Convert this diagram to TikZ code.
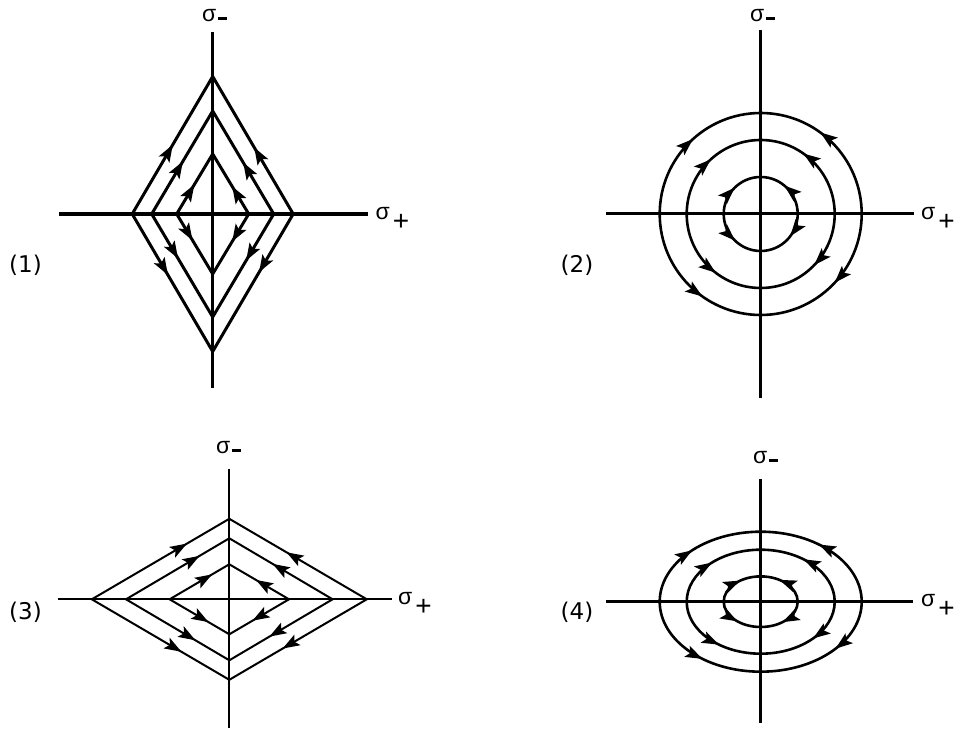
\documentclass[tikz,border=0pt]{standalone}
\usepackage{fontspec}
\setmainfont{DejaVu Sans}
\newfontfamily\sigfont{Liberation Sans}
\usetikzlibrary{arrows.meta,decorations.markings}
\tikzset{
  flow/.style n args={4}{decoration={markings,
    mark=at position #1 with {\arrow{Stealth[length=17pt,width=12pt,inset=3.5pt]}},
    mark=at position #2 with {\arrowreversed{Stealth[length=17pt,width=12pt,inset=3.5pt]}},
    mark=at position #3 with {\arrow{Stealth[length=17pt,width=12pt,inset=3.5pt]}},
    mark=at position #4 with {\arrowreversed{Stealth[length=17pt,width=12pt,inset=3.5pt]}}},
    postaction={decorate}},
  axisA/.style={line width=3.4pt},
  curveA/.style={line width=3pt},
  axisB/.style={line width=3pt},
  curveB/.style={line width=2.6pt},
  axisC/.style={line width=2.2pt},
  curveC/.style={line width=2pt},
  numlbl/.style={font=\fontsize{23}{23}\selectfont, inner sep=0pt},
  siglbl/.style={font=\sigfont\fontsize{23}{23}\selectfont, inner sep=0pt, anchor=base west},
}
\newcommand{\sminus}{σ\hspace{2pt}\rule[1.7pt]{9pt}{3pt}}
\newcommand{\splus}{σ\hspace{3pt}\raisebox{-11pt}{\fontsize{28}{28}\selectfont +}}
\begin{document}
\begin{tikzpicture}[x=1pt,y=1pt]
\useasboundingbox (0,0) rectangle (958,728);
% ---------- panel 1 ----------
\draw[axisA] (212.7,696) -- (212.7,340);
\draw[axisA] (59,514) -- (368,514);
\draw[curveA, flow={.126}{.379}{.606}{.889}] (212.7-80.5,514) -- (212.7,514+137.5) -- (212.7+80.5,514) -- (212.7,514-137.5) -- cycle;
\draw[curveA, flow={.128}{.375}{.613}{.892}] (212.7-61,514) -- (212.7,514+103) -- (212.7+61,514) -- (212.7,514-103) -- cycle;
\draw[curveA, flow={.123}{.385}{.615}{.890}] (212.7-36,514) -- (212.7,514+60) -- (212.7+36,514) -- (212.7,514-60) -- cycle;
\node[siglbl] (sm1) at (202,706.3) {\sminus};
\node[siglbl] (sp1) at (375.5,508) {\splus};
\node[numlbl] (n1) at (25.5,463) {(1)};
% ---------- panel 2 ----------
\draw[axisB] (760.7,698) -- (760.7,330);
\draw[axisB] (606,514) -- (914,514);
\draw[curveB, flow={.133}{.3505}{.619}{.848}] (760.7-101,514) arc[start angle=180,end angle=-180,radius=101];
\draw[curveB, flow={.132}{.348}{.621}{.854}] (760.7-74,514) arc[start angle=180,end angle=-180,radius=74];
\draw[curveB, flow={.1255}{.3605}{.603}{.872}] (760.7-37,514) arc[start angle=180,end angle=-180,radius=37];
\node[siglbl] (sm2) at (750,706.3) {\sminus};
\node[siglbl] (sp2) at (921,508) {\splus};
\node[numlbl] (n2) at (577,463) {(2)};
% ---------- panel 3 ----------
\draw[axisC] (229.3,259) -- (229.3,0);
\draw[axisC] (58,128.7) -- (392,128.7);
\draw[curveC, flow={.173}{.354}{.653}{.837}] (229.3-137.5,128.7) -- (229.3,128.7+80.5) -- (229.3+137.5,128.7) -- (229.3,128.7-80.5) -- cycle;
\draw[curveC, flow={.178}{.355}{.653}{.832}] (229.3-103.3,128.7) -- (229.3,128.7+61) -- (229.3+103.3,128.7) -- (229.3,128.7-61) -- cycle;
\draw[curveC, flow={.178}{.362}{.653}{.837}] (229.3-59.7,128.7) -- (229.3,128.7+35) -- (229.3+59.7,128.7) -- (229.3,128.7-35) -- cycle;
\node[siglbl] (sm3) at (216,274) {\sminus};
\node[siglbl] (sp3) at (398,123) {\splus};
\node[numlbl] (n3) at (25.5,116) {(3)};
% ---------- panel 4 ----------
\draw[axisB] (760.7,248.7) -- (760.7,5);
\draw[axisB] (606,126.3) -- (913.3,126.3);
\draw[curveB, flow={.117}{.361}{.603}{.861}] (760.7-101,126.3) arc[start angle=180,end angle=-180,x radius=101,y radius=70];
\draw[curveB, flow={.122}{.361}{.611}{.858}] (760.7-74,126.3) arc[start angle=180,end angle=-180,x radius=74,y radius=52];
\draw[curveB, flow={.144}{.3475}{.636}{.8725}] (760.7-37,126.3) arc[start angle=180,end angle=-180,x radius=37,y radius=25.3];
\node[siglbl] (sm4) at (753,264) {\sminus};
\node[siglbl] (sp4) at (921,121) {\splus};
\node[numlbl] (n4) at (577,116) {(4)};
\end{tikzpicture}
\end{document}
